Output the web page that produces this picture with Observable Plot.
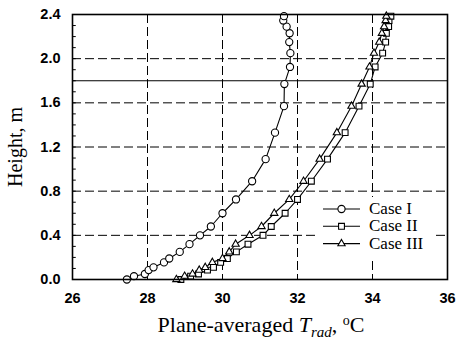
<!DOCTYPE html>
<html>
<head>
<meta charset="utf-8">
<script src="https://cdn.jsdelivr.net/npm/d3@7"></script>
<script src="https://cdn.jsdelivr.net/npm/@observablehq/plot@0.6"></script>
<style>
  html, body { margin: 0; padding: 0; background: #fff; }
  #chart { position: relative; width: 457px; height: 345px; }
</style>
</head>
<body>
<div id="chart"></div>
<script>
// ---- data ----
const heights = [0, 0.03, 0.05, 0.085, 0.11, 0.155, 0.19, 0.25, 0.32, 0.40, 0.48, 0.60, 0.725, 0.89, 1.09, 1.33, 1.57, 1.77, 1.925, 2.05, 2.15, 2.23, 2.29, 2.345, 2.385];
const caseI   = [27.45, 27.64, 27.93, 28.03, 28.16, 28.44, 28.58, 28.86, 29.12, 29.40, 29.69, 30.00, 30.36, 30.79, 31.15, 31.40, 31.64, 31.65, 31.80, 31.81, 31.78, 31.79, 31.71, 31.62, 31.64];
const caseII  = [28.89, 29.15, 29.36, 29.60, 29.76, 29.95, 30.13, 30.37, 30.68, 31.08, 31.30, 31.67, 32.00, 32.37, 32.80, 33.27, 33.64, 33.94, 34.07, 34.27, 34.35, 34.37, 34.43, 34.44, 34.49];
const caseIII = [28.77, 28.99, 29.20, 29.38, 29.54, 29.73, 30.00, 30.18, 30.35, 30.72, 31.04, 31.38, 31.78, 32.16, 32.59, 33.05, 33.44, 33.71, 33.92, 34.04, 34.18, 34.25, 34.31, 34.35, 34.37];
const seriesNames = ["Case I", "Case II", "Case III"];
const seriesSymbols = ["circle", "square", "triangle"];
const xTicks = [26, 28, 30, 32, 34, 36];
const yTicks = [0.0, 0.4, 0.8, 1.2, 1.6, 2.0, 2.4];
const xGrid = [28, 30, 32, 34];
const yGrid = [0.4, 0.8, 1.2, 1.6, 2.0];
const yMinor = d3.range(1, 24).map(i => i / 10);
const occupiedLine = [1.8];

const markerR = { circle: 3.6, square: 3.3, triangle: 2.7 };
const allSeries = [caseI, caseII, caseIII];
const rows = allSeries.flatMap((vals, si) =>
  vals.map((v, i) => ({ series: seriesNames[si], symbol: seriesSymbols[si], T: v, h: heights[i] })));

const sans = "'Liberation Sans', Arial, sans-serif";
const serif = "'Liberation Serif', 'Times New Roman', serif";

const plot = Plot.plot({
  width: 457,
  height: 345,
  marginLeft: 72,
  marginRight: 10,
  marginTop: 14,
  marginBottom: 66,
  style: { fontFamily: sans, fontSize: "14.5px", fontWeight: "bold", background: "#fff", color: "#000" },
  x: { type: "linear", domain: [26, 36], ticks: xTicks, tickFormat: d => d3.format("d")(d), tickSize: 0, tickPadding: 13, label: null },
  y: { type: "linear", domain: [0, 2.4], ticks: yTicks, tickFormat: d => d3.format(".1f")(d), tickSize: 0, tickPadding: 12, label: null },
  symbol: { domain: seriesSymbols, range: seriesSymbols },
  r: { type: "identity" },
  marks: [
    Plot.gridX(xGrid, { stroke: "#000", strokeOpacity: 1, strokeWidth: 1, strokeDasharray: "9,4" }),
    Plot.gridY(yGrid, { stroke: "#000", strokeOpacity: 1, strokeWidth: 1, strokeDasharray: "9,4" }),
    Plot.ruleY(occupiedLine, { stroke: "#000", strokeWidth: 1.2 }),
    Plot.ruleY(yMinor, { x1: 26, x2: 26.1, stroke: "#000", strokeWidth: 1 }),
    Plot.line(rows, { x: "T", y: "h", z: "series", stroke: "#000", strokeWidth: 1.1 }),
    Plot.dot(rows, { x: "T", y: "h", symbol: "symbol", r: d => markerR[d.symbol], fill: "#fff", stroke: "#000", strokeWidth: 1.1 }),
    Plot.frame({ stroke: "#000", strokeWidth: 1.6 })
  ]
});

document.getElementById("chart").appendChild(plot);

// x-axis label with italic T and subscript
const svg = d3.select(plot);
const xl = svg.append("text")
  .attr("x", 261).attr("y", 332)
  .attr("text-anchor", "middle")
  .style("font-family", serif).style("font-size", "22px").style("font-weight", "normal")
  .attr("fill", "#000");
xl.append("tspan").text("Plane-averaged ");
xl.append("tspan").style("font-style", "italic").text("T");
xl.append("tspan").style("font-style", "italic").style("font-size", "15px").attr("dy", 5).text("rad");
xl.append("tspan").attr("dy", -5).text(", ");
xl.append("tspan").style("font-size", "14px").attr("dy", -7).text("o");
xl.append("tspan").attr("dy", 7).text("C");

// y-axis label
svg.append("text")
  .attr("transform", "translate(22,147) rotate(-90)")
  .attr("text-anchor", "middle")
  .style("font-family", serif).style("font-size", "20px").style("font-weight", "normal")
  .attr("fill", "#000")
  .text("Height, m");

// legend (white box inside the plot area)
const lg = svg.append("g");
lg.append("rect").attr("x", 319).attr("y", 197).attr("width", 114).attr("height", 64).attr("fill", "#fff");
const legendSym = [d3.symbolCircle, d3.symbolSquare, d3.symbolTriangle];
seriesNames.forEach((name, i) => {
  const cy = 209 + i * 17.3;
  const r = markerR[seriesSymbols[i]];
  lg.append("line").attr("x1", 323).attr("x2", 360).attr("y1", cy).attr("y2", cy)
    .attr("stroke", "#000").attr("stroke-width", 1.1);
  lg.append("path")
    .attr("d", d3.symbol(legendSym[i], Math.PI * r * r)())
    .attr("transform", `translate(341.5,${cy})`)
    .attr("fill", "#fff").attr("stroke", "#000").attr("stroke-width", 1.1);
  lg.append("text").attr("x", 369).attr("y", cy + 5)
    .attr("text-anchor", "start")
    .style("font-family", serif).style("font-size", "17px").style("font-weight", "normal")
    .attr("fill", "#000").text(name);
});
</script>
</body>
</html>
